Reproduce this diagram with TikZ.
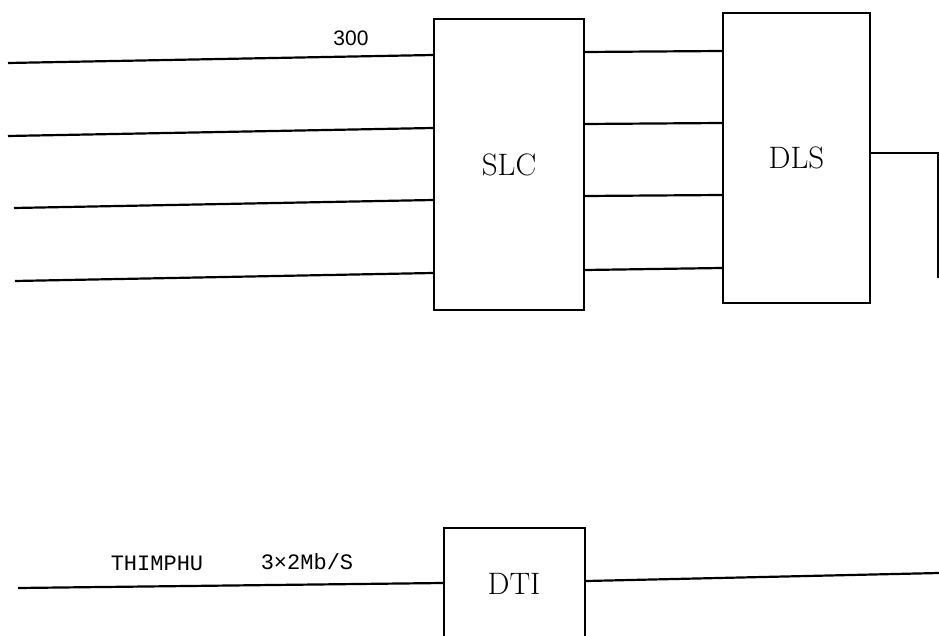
\documentclass[tikz,border=0pt]{standalone}
\usepackage{fontspec}
\newfontfamily\monofnt{Liberation Mono}
\newfontfamily\sansfnt{Liberation Sans}
\begin{document}
\begin{tikzpicture}[x=1pt,y=-1pt,
  line/.style={draw=black,line width=2.2pt},
  block/.style={draw=black,line width=2.2pt,fill=none,inner sep=0pt,
    font=\fontsize{31}{34}\selectfont},
  lbl/.style={inner sep=0pt,font=\monofnt\fontsize{22}{24}\selectfont}]
\useasboundingbox (0,0) rectangle (939,636);
\clip (0,0) rectangle (939,636);
% blocks
\node[block,minimum width=150pt,minimum height=291pt] (slc) at (509,164.5) {SLC};
\node[block,minimum width=147pt,minimum height=290pt] (dls) at (796.5,158) {DLS};
\node[block,minimum width=141pt,minimum height=123pt,anchor=north west] (dti) at (443,527) {};
\node[inner sep=0pt,font=\fontsize{31}{34}\selectfont] (dtit) at (514,584) {DTI};
% labels
\node[inner sep=0pt,font=\sansfnt\fontsize{21}{23}\selectfont] (n300) at (351,38) {300};
\node[lbl] (thim) at (157,563) {THIMPHU};
\node[lbl] (rate) at (307,562) {3×2Mb/S};
% input lines
\coordinate (i1) at (8,63);
\coordinate (i2) at (8,136);
\coordinate (i3) at (14,208);
\coordinate (i4) at (15,281);
\draw[line] (i1) -- (slc.west |- 0,55);
\draw[line] (i2) -- (slc.west |- 0,128);
\draw[line] (i3) -- (slc.west |- 0,200);
\draw[line] (i4) -- (slc.west |- 0,273);
% SLC to DLS
\draw[line] (slc.east |- 0,52) -- (dls.west |- 0,51);
\draw[line] (slc.east |- 0,124) -- (dls.west |- 0,123);
\draw[line] (slc.east |- 0,196) -- (dls.west |- 0,195);
\draw[line] (slc.east |- 0,270) -- (dls.west |- 0,268);
% DLS output
\coordinate (o1) at (938,153);
\coordinate (o2) at (938,278);
\draw[line] (dls.east |- o1) -- (o1) -- (o2);
% DTI lines
\coordinate (t1) at (18,588);
\coordinate (t2) at (939,573);
\draw[line] (t1) -- (dti.west |- 0,583);
\draw[line] (dti.east |- 0,581) -- (t2);
\end{tikzpicture}
\end{document}
